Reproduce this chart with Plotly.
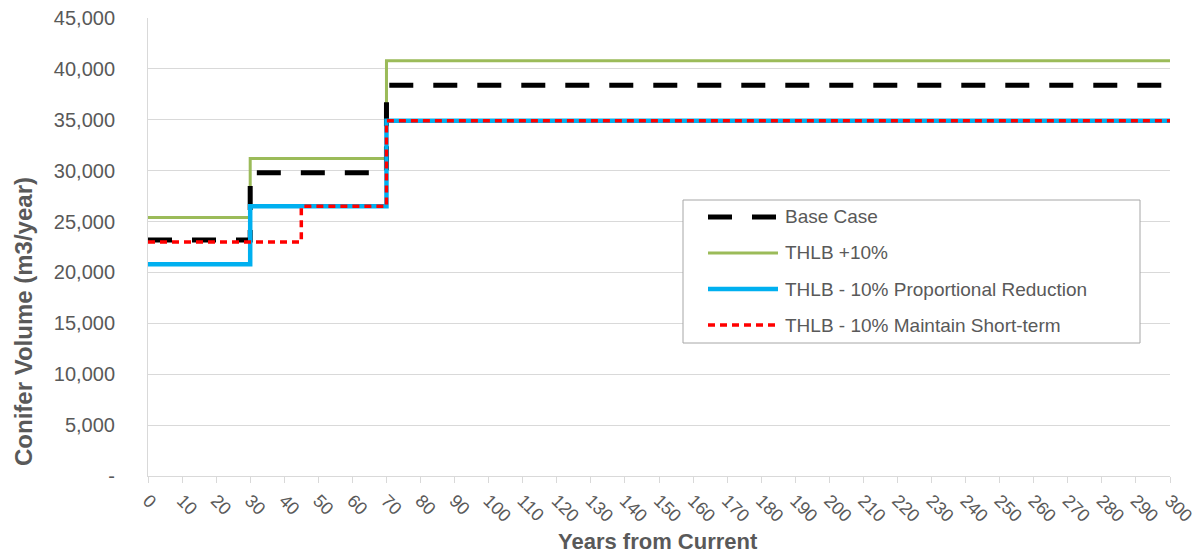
import plotly.graph_objects as go

# Harvest forecast steps (year at which each level starts, then the horizon end)
base_years = [0, 30, 70, 300]
base_vol = [23200, 29800, 38400, 38400]

plus10_years = [0, 30, 70, 300]
plus10_vol = [25400, 31200, 40800, 40800]

prop_years = [0, 30, 70, 300]
prop_vol = [20800, 26500, 34900, 34900]

short_years = [0, 45, 70, 300]
short_vol = [23000, 26500, 34900, 34900]

series_names = [
    "Base Case",
    "THLB +10%",
    "THLB - 10% Proportional Reduction",
    "THLB - 10% Maintain Short-term",
]

y_tick_vals = [0, 5000, 10000, 15000, 20000, 25000, 30000, 35000, 40000, 45000]
y_tick_text = ["-", "5,000", "10,000", "15,000", "20,000", "25,000",
               "30,000", "35,000", "40,000", "45,000"]
x_tick_vals = list(range(0, 301, 10))

x_title = "Years from Current"
y_title = "Conifer Volume (m3/year)"

FONT = "Liberation Sans"
TXT = "#595959"
GRID = "#d9d9d9"

styles = {
    "Base Case": dict(color="#000000", width=5, dash="24px,20px"),
    "THLB +10%": dict(color="#9bbb59", width=3, dash="solid"),
    "THLB - 10% Proportional Reduction": dict(color="#00b0f0", width=4.5, dash="solid"),
    "THLB - 10% Maintain Short-term": dict(color="#ff0000", width=3.5, dash="7px,5px"),
}

data = {
    "Base Case": (base_years, base_vol),
    "THLB +10%": (plus10_years, plus10_vol),
    "THLB - 10% Proportional Reduction": (prop_years, prop_vol),
    "THLB - 10% Maintain Short-term": (short_years, short_vol),
}

fig = go.Figure()
draw_order = ["THLB +10%", "Base Case",
              "THLB - 10% Proportional Reduction", "THLB - 10% Maintain Short-term"]
for name in draw_order:
    xs, ys = data[name]
    fig.add_trace(go.Scatter(
        x=xs, y=ys, mode="lines", name=name, line_shape="hv",
        line=styles[name], showlegend=False, hoverinfo="x+y+name",
    ))

# Page geometry and helpers to place extras in paper coordinates
W, H = 1198, 556
L, R, T, B = 148, 28, 18, 80
pw, ph = W - L - R, H - T - B


def px_x(p):
    return (p - L) / pw


def px_y(p):
    return (H - B - p) / ph


# Boxed legend with long line samples
shapes = [dict(type="rect", xref="paper", yref="paper",
               x0=px_x(683), x1=px_x(1140), y0=px_y(343), y1=px_y(200),
               line=dict(color="#a6a6a6", width=1), fillcolor="white", layer="above")]
annotations = []
row_y = [217, 253, 289, 325]
for name, ry in zip(series_names, row_y):
    st = styles[name]
    shapes.append(dict(type="line", xref="paper", yref="paper",
                       x0=px_x(708), x1=px_x(778), y0=px_y(ry), y1=px_y(ry),
                       line=dict(color=st["color"], width=st["width"], dash=st["dash"]),
                       layer="above"))
    annotations.append(dict(xref="paper", yref="paper", x=px_x(783), y=px_y(ry),
                            text=name, showarrow=False, xanchor="left", yanchor="middle",
                            font=dict(family=FONT, size=19, color=TXT)))

# Axis titles
annotations.append(dict(xref="paper", yref="paper", x=px_x(658), y=px_y(541),
                        text=f"<b>{x_title}</b>", showarrow=False,
                        xanchor="center", yanchor="middle",
                        font=dict(family=FONT, size=22, color=TXT)))
annotations.append(dict(xref="paper", yref="paper", x=px_x(23), y=px_y(322),
                        text=f"<b>{y_title}</b>", showarrow=False, textangle=-90,
                        xanchor="center", yanchor="middle",
                        font=dict(family=FONT, size=24, color=TXT)))

fig.update_layout(
    width=W, height=H,
    margin=dict(l=L, r=R, t=T, b=B, autoexpand=False),
    paper_bgcolor="white", plot_bgcolor="white",
    font=dict(family=FONT, color=TXT),
    shapes=shapes, annotations=annotations,
    showlegend=False,
)
fig.update_xaxes(
    range=[0, 300], tickvals=x_tick_vals, tickangle=45,
    tickfont=dict(family=FONT, size=18, color=TXT),
    showgrid=False, zeroline=False, automargin=False,
    showline=True, linecolor=GRID, linewidth=1,
    ticks="outside", ticklen=6, tickcolor=GRID,
)
fig.update_yaxes(
    range=[0, 45000], tickvals=y_tick_vals, ticktext=y_tick_text,
    tickfont=dict(family=FONT, size=20, color=TXT),
    showgrid=True, gridcolor=GRID, gridwidth=1, zeroline=False, automargin=False,
    showline=True, linecolor=GRID, linewidth=1,
    ticks="", ticklabelstandoff=28,
)

fig.write_html("out.html")
